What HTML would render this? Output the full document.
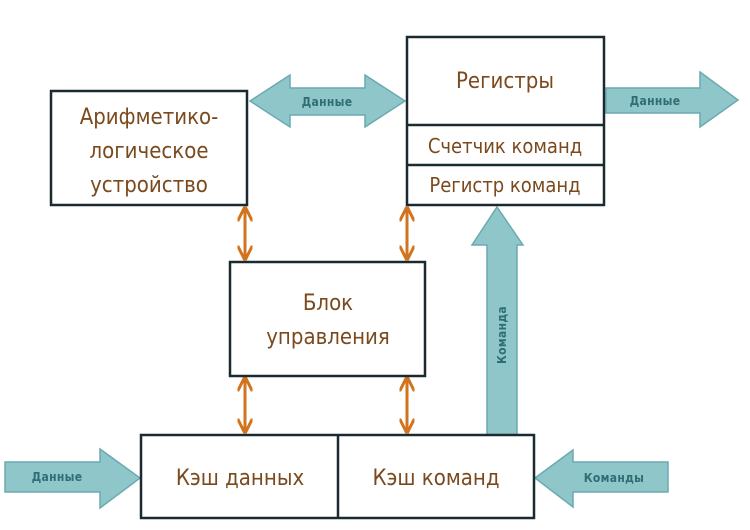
<!DOCTYPE html>
<html><head><meta charset="utf-8"><style>
body{margin:0;background:#fff;}
svg text{font-family:"DejaVu Sans Condensed","Liberation Sans Narrow","Liberation Sans",sans-serif;}
</style></head><body>
<svg width="750" height="525" viewBox="0 0 750 525" xmlns="http://www.w3.org/2000/svg">
<defs>
<marker id="oa" viewBox="0 0 10 10" refX="9" refY="5" markerWidth="5" markerHeight="5" orient="auto-start-reverse">
<path d="M0,0 L10,5 L0,10" fill="none" stroke="#d2731e" stroke-width="2"/></marker>
</defs>
<g fill="#8fc6ca" stroke="#6aaab0" stroke-width="1.5">
<polygon points="250,101 290,75 290,88 365,88 365,75 405,101 365,127 365,115 290,115 290,127"/>
<polygon points="606,88 700,88 700,72 738,100 700,127 700,113 606,113"/>
<polygon points="487,435 487,245 472,245 497,207 523,245 517,245 517,435"/>
<polygon points="5,462 100,462 100,449 140,478 100,508 100,492 5,492"/>
<polygon points="535,478 573,450 573,462 668,462 668,492 573,492 573,507"/>
</g>
<g fill="#2e6e74" font-size="12" font-weight="600" text-anchor="middle" letter-spacing="0.3">
<text x="327" y="106">Данные</text>
<text x="655" y="105">Данные</text>
<text x="57" y="481">Данные</text>
<text x="614" y="482">Команды</text>
<text transform="translate(506,335) rotate(-90)">Команда</text>
</g>
<g stroke="#d2731e" stroke-width="3" marker-start="url(#oa)" marker-end="url(#oa)">
<line x1="245" y1="208" x2="245" y2="259"/>
<line x1="407" y1="208" x2="407" y2="259"/>
<line x1="245" y1="378" x2="245" y2="432"/>
<line x1="407" y1="378" x2="407" y2="432"/>
</g>
<g fill="#fff" stroke="#1a2a30" stroke-width="2.5">
<rect x="51" y="91" width="196" height="114"/>
<rect x="407" y="37" width="197" height="168"/>
<line x1="407" y1="125" x2="604" y2="125"/>
<line x1="407" y1="165" x2="604" y2="165"/>
<rect x="230" y="262" width="195" height="114"/>
<rect x="141" y="435" width="393" height="83"/>
<line x1="338" y1="435" x2="338" y2="518"/>
</g>
<g fill="#7a4a1e" font-size="22" text-anchor="middle">
<text x="149" y="124">Арифметико-</text>
<text x="149" y="158">логическое</text>
<text x="149" y="192">устройство</text>
<text x="505" y="88">Регистры</text>
<text x="505" y="153" font-size="20">Счетчик команд</text>
<text x="505" y="192" font-size="20">Регистр команд</text>
<text x="328" y="310">Блок</text>
<text x="328" y="344">управления</text>
<text x="240" y="485">Кэш данных</text>
<text x="436" y="485">Кэш команд</text>
</g>
</svg>
</body></html>
